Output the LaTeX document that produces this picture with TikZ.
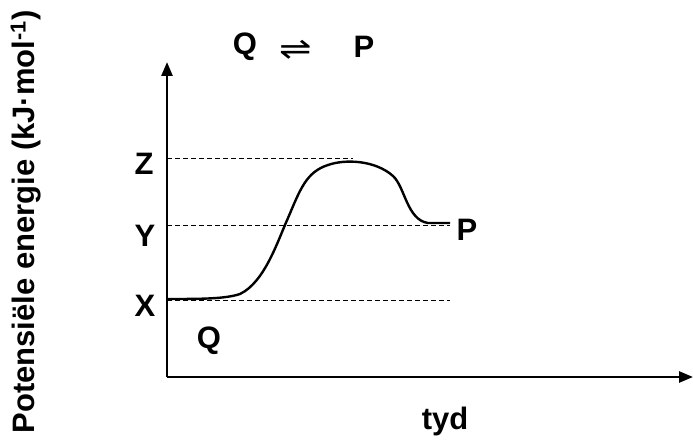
\documentclass[tikz,border=0pt]{standalone}
\usepackage{fontspec}
\setmainfont{Liberation Sans}
\newfontfamily\symfont{DejaVu Sans}
\usetikzlibrary{arrows.meta}

\begin{document}
\begin{tikzpicture}[x=1pt,y=-1pt,>={Triangle[length=14pt,width=11pt]},
  font=\fontsize{31}{36}\selectfont\bfseries,
  axis/.style={line width=2.6pt},
  level/.style={line width=0.8pt,dash pattern=on 5pt off 3pt},
  lbl/.style={inner sep=0pt}]
  \useasboundingbox (0,0) rectangle (693,446);
  % axes
  \coordinate (origin) at (167,377);
  \coordinate (ytop) at (167,62);
  \coordinate (xend) at (693,377);
  \draw[axis,->] (origin) -- (ytop);
  \draw[axis,->] (origin) -- (xend);
  \node[lbl,rotate=90] (ylab) at (26,222) {Potensiële energie (kJ·mol\textsuperscript{-1})};
  \node[lbl] (tyd) at (445,421) {tyd};
  % reaction at the top
  \node[lbl] (qtop) at (245,47) {Q};
  \node[lbl,xscale=1.25] (eq) at (296,50) {\symfont\mdseries ⇌};
  \node[lbl] (ptop) at (364,47) {P};
  % energy levels
  \node[lbl] (z) at (144,164) {Z};
  \node[lbl] (y) at (145,236) {Y};
  \node[lbl] (x) at (145,306) {X};
  \coordinate (zl) at (167,158);
  \coordinate (zr) at (353,158);
  \coordinate (yl) at (167,225);
  \coordinate (yr) at (450,225);
  \coordinate (xl) at (167,300);
  \coordinate (xr) at (450,300);
  \draw[level] (zl) -- (zr);
  \draw[level] (yl) -- (yr);
  \draw[level] (xl) -- (xr);
  % energy profile
  \coordinate (start) at (167,299);
  \coordinate (finish) at (450,223);
  \draw[line width=2.4pt] (start) .. controls (200,299) and (225,299) .. (240,294)
    .. controls (265,282) and (278,240) .. (288,218)
    .. controls (300,190) and (306,172) .. (328,165)
    .. controls (345,159) and (375,160) .. (393,176)
    .. controls (405,187) and (407,220) .. (428,223)
    -- (finish);
  \node[lbl] (pend) at (467,230) {P};
  \node[lbl] (qbot) at (209,341) {Q};
\end{tikzpicture}
\end{document}
